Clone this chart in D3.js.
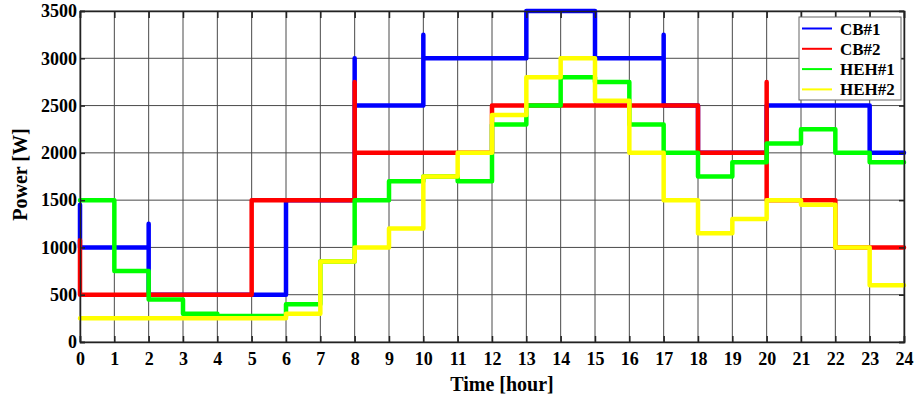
<!DOCTYPE html>
<html>
<head>
<meta charset="utf-8">
<script src="https://cdn.jsdelivr.net/npm/d3@7"></script>
<style>
  body { margin: 0; background: #fff; }
  text { font-family: "Liberation Serif", "Times New Roman", serif; font-weight: bold; }
</style>
</head>
<body>
<div class="chart"></div>
<script>
var svgWidth = 921;
var svgHeight = 401;

var margin = { top: 11, right: 17, bottom: 59, left: 80 };
var width = svgWidth - margin.left - margin.right;
var height = svgHeight - margin.top - margin.bottom;

// hourly values (value held from hour i to i+1)
var hours = d3.range(0, 25);
var yTicks = [0, 500, 1000, 1500, 2000, 2500, 3000, 3500];

var cb1 = [1000, 1000, 500, 500, 500, 500, 1500, 1500, 2500, 2500, 3000, 3000,
           3000, 3500, 3500, 3000, 3000, 2500, 2000, 2000, 2500, 2500, 2500, 2000];
var cb2 = [500, 500, 500, 500, 500, 1500, 1500, 1500, 2000, 2000, 2000, 2000,
           2500, 2500, 2500, 2500, 2500, 2500, 2000, 2000, 1500, 1500, 1000, 1000];
var heh1 = [1500, 750, 450, 300, 275, 275, 400, 850, 1500, 1700, 1750, 1700,
            2300, 2500, 2800, 2750, 2300, 2000, 1750, 1900, 2100, 2250, 2000, 1900];
var heh2 = [250, 250, 250, 250, 250, 250, 300, 850, 1000, 1200, 1750, 2000,
            2400, 2800, 3000, 2550, 2000, 1500, 1150, 1300, 1500, 1450, 1000, 600];

// overshoot at switching instants  {hour: peak}
var cb1Spikes = { 2: 1250, 8: 3000, 10: 3250, 17: 3250 };
var cb2Spikes = { 8: 2750, 20: 2750 };
var cb1Start = 1450;
var cb2Start = 1075;

var names = ["CB#1", "CB#2", "HEH#1", "HEH#2"];
var colors = ["#0000ff", "#ff0000", "#00ff00", "#ffff00"];

var series = [
  { name: names[0], values: cb1, spikes: cb1Spikes, start: cb1Start },
  { name: names[1], values: cb2, spikes: cb2Spikes, start: cb2Start },
  { name: names[2], values: heh1, spikes: {}, start: null },
  { name: names[3], values: heh2, spikes: {}, start: null }
];

var svg = d3.select(".chart")
  .append("svg")
  .attr("width", svgWidth)
  .attr("height", svgHeight);

var chart = svg.append("g")
  .attr("transform", "translate(" + margin.left + "," + margin.top + ")");

var x = d3.scaleLinear().domain([0, 24]).range([0, width]);
var y = d3.scaleLinear().domain([0, 3500]).range([height, 0]);

// grid
chart.append("g").selectAll("line")
  .data(hours)
  .enter().append("line")
  .attr("x1", function(d) { return x(d); })
  .attr("x2", function(d) { return x(d); })
  .attr("y1", 0)
  .attr("y2", height)
  .attr("stroke", "#4a4a4a")
  .attr("stroke-width", 1);

chart.append("g").selectAll("line")
  .data(yTicks)
  .enter().append("line")
  .attr("x1", 0)
  .attr("x2", width)
  .attr("y1", function(d) { return y(d); })
  .attr("y2", function(d) { return y(d); })
  .attr("stroke", "#4a4a4a")
  .attr("stroke-width", 1);

// step lines
function stepPoints(s) {
  var pts = [];
  if (s.start !== null) pts.push([0, s.start]);
  s.values.forEach(function(v, i) {
    if (s.spikes[i] !== undefined) pts.push([i, s.spikes[i]]);
    pts.push([i, v]);
    pts.push([i + 1, v]);
  });
  return pts;
}

var line = d3.line()
  .x(function(d) { return x(d[0]); })
  .y(function(d) { return y(d[1]); });

chart.append("g").selectAll("path")
  .data(series)
  .enter().append("path")
  .attr("d", function(d) { return line(stepPoints(d)); })
  .attr("fill", "none")
  .attr("stroke", function(d, i) { return colors[i]; })
  .attr("stroke-width", 4.5)
  .attr("stroke-linejoin", "round")
  .attr("stroke-linecap", "round");

// axes
var bottomAxis = d3.axisBottom(x).tickValues(hours).tickSize(-6).tickPadding(10);
var topAxis = d3.axisTop(x).tickValues(hours).tickSize(-7).tickFormat("");
var leftAxis = d3.axisLeft(y).tickValues(yTicks).tickSize(-5).tickPadding(3).tickFormat(d3.format("d"));
var rightAxis = d3.axisRight(y).tickValues(yTicks).tickSize(-5).tickFormat("");

chart.append("g")
  .attr("class", "axis")
  .attr("transform", "translate(0," + height + ")")
  .call(bottomAxis);
chart.append("g").attr("class", "axis").call(topAxis);
chart.append("g").attr("class", "axis").call(leftAxis);
chart.append("g")
  .attr("class", "axis")
  .attr("transform", "translate(" + width + ",0)")
  .call(rightAxis);

chart.selectAll(".axis path").attr("stroke", "#222").attr("stroke-width", 1.5);
chart.selectAll(".axis line").attr("stroke", "#222").attr("stroke-width", 1.5);
chart.selectAll(".axis text")
  .style("font-size", "18px")
  .style("font-family", "'Liberation Serif', serif")
  .style("font-weight", "bold")
  .attr("fill", "#000");

// axis titles
chart.append("text")
  .attr("x", 422)
  .attr("y", height + 49)
  .attr("text-anchor", "middle")
  .style("font-size", "20px")
  .text("Time [hour]");

chart.append("text")
  .attr("transform", "translate(-53," + (height / 2 - 2) + ") rotate(-90)")
  .attr("text-anchor", "middle")
  .style("font-size", "20px")
  .text("Power [W]");

// legend
var legend = chart.append("g").attr("transform", "translate(719,6)");
legend.append("rect")
  .attr("width", 102)
  .attr("height", 83)
  .attr("fill", "#fff")
  .attr("stroke", "#666")
  .attr("stroke-width", 1);

var items = legend.selectAll("g.item")
  .data(names)
  .enter().append("g")
  .attr("class", "item")
  .attr("transform", function(d, i) { return "translate(0," + (11.5 + i * 20.3) + ")"; });

items.append("line")
  .attr("x1", 3)
  .attr("x2", 33)
  .attr("stroke", function(d, i) { return colors[i]; })
  .attr("stroke-width", 2);

items.append("text")
  .attr("x", 41)
  .attr("y", 6)
  .style("font-size", "17px")
  .text(function(d) { return d; });
</script>
</body>
</html>
